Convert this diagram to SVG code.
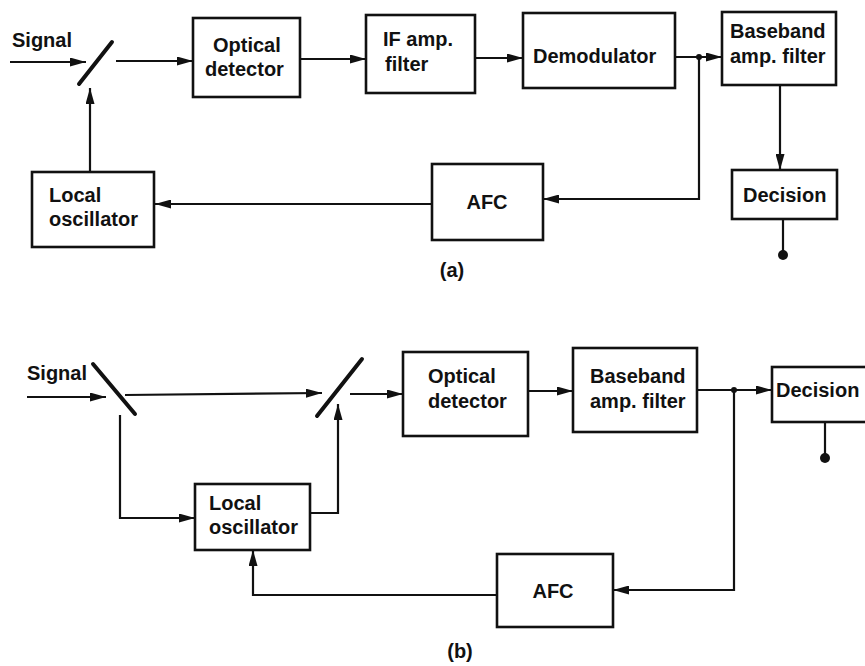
<svg xmlns="http://www.w3.org/2000/svg" width="865" height="666" viewBox="0 0 865 666">
<defs>
<style>
.box{fill:#fff;stroke:#111;stroke-width:2.6}
.ln{fill:none;stroke:#111;stroke-width:2.2}
.mir{stroke:#111;stroke-width:4;stroke-linecap:round}
text{font-family:"Liberation Sans","DejaVu Sans",sans-serif;font-weight:700;font-size:20px;fill:#111}
.c{text-anchor:middle}
</style>
<marker id="arr" viewBox="0 0 16 9" refX="16" refY="4.5" markerWidth="16" markerHeight="9" orient="auto" markerUnits="userSpaceOnUse"><path d="M0,0 L16,4.5 L0,9 z" fill="#111"/></marker>
</defs>
<rect width="865" height="666" fill="#fff"/>

<g id="connectors">
<!-- (a) -->
<path class="ln" d="M10,62 H86" marker-end="url(#arr)"/>
<line class="mir" x1="79" y1="84" x2="112" y2="42"/>
<path class="ln" d="M116,61 H193" marker-end="url(#arr)"/>
<path class="ln" d="M300,59 H366" marker-end="url(#arr)"/>
<path class="ln" d="M475,58 H523" marker-end="url(#arr)"/>
<path class="ln" d="M675,57 H722" marker-end="url(#arr)"/>
<circle cx="699" cy="57" r="3" fill="#111"/>
<path class="ln" d="M699,57 V199 H543" marker-end="url(#arr)"/>
<path class="ln" d="M432,204 H155" marker-end="url(#arr)"/>
<path class="ln" d="M90,172 V88" marker-end="url(#arr)"/>
<path class="ln" d="M780,85 V170" marker-end="url(#arr)"/>
<path class="ln" d="M783,219 V255"/>
<circle cx="783" cy="255" r="5" fill="#111"/>
<!-- (b) -->
<path class="ln" d="M27,397 H106" marker-end="url(#arr)"/>
<line class="mir" x1="93" y1="364" x2="135" y2="414"/>
<path class="ln" d="M125,395 L322,393" marker-end="url(#arr)"/>
<line class="mir" x1="317" y1="416" x2="362" y2="359"/>
<path class="ln" d="M350,394 H403" marker-end="url(#arr)"/>
<path class="ln" d="M528,391 H573" marker-end="url(#arr)"/>
<path class="ln" d="M697,390 H772" marker-end="url(#arr)"/>
<circle cx="734" cy="390" r="3" fill="#111"/>
<path class="ln" d="M734,390 V590 H613" marker-end="url(#arr)"/>
<path class="ln" d="M497,595 H253 V550" marker-end="url(#arr)"/>
<path class="ln" d="M120,415 V518 H195" marker-end="url(#arr)"/>
<path class="ln" d="M310,513 H338 V404" marker-end="url(#arr)"/>
<path class="ln" d="M825,422 V458"/>
<circle cx="825" cy="458" r="5" fill="#111"/>
</g>

<text x="12" y="47">Signal</text>
<text x="27" y="380">Signal</text>

<g id="a-optical"><rect class="box" x="193" y="18" width="107" height="79"/><text x="213" y="52">Optical</text><text x="205" y="76">detector</text></g>
<g id="a-if"><rect class="box" x="366" y="15" width="109" height="78"/><text x="383" y="46">IF amp.</text><text x="385" y="71">filter</text></g>
<g id="a-demod"><rect class="box" x="523" y="13" width="152" height="75"/><text x="533" y="63">Demodulator</text></g>
<g id="a-baseband"><rect class="box" x="722" y="12" width="114" height="73"/><text x="730" y="38">Baseband</text><text x="730" y="63">amp. filter</text></g>
<g id="a-decision"><rect class="box" x="732" y="170" width="105" height="49"/><text x="743" y="202">Decision</text></g>
<g id="a-afc"><rect class="box" x="432" y="164" width="111" height="76"/><text class="c" x="487" y="209">AFC</text></g>
<g id="a-lo"><rect class="box" x="32" y="172" width="122" height="75"/><text x="49" y="202">Local</text><text x="49" y="226">oscillator</text></g>
<text class="c" x="452" y="277">(a)</text>

<g id="b-optical"><rect class="box" x="403" y="352" width="125" height="84"/><text x="428" y="383">Optical</text><text x="428" y="408">detector</text></g>
<g id="b-baseband"><rect class="box" x="573" y="348" width="124" height="84"/><text x="590" y="383">Baseband</text><text x="590" y="408">amp. filter</text></g>
<g id="b-decision"><rect class="box" x="772" y="367" width="100" height="55"/><text x="776" y="397">Decision</text></g>
<g id="b-afc"><rect class="box" x="497" y="554" width="116" height="73"/><text class="c" x="553" y="598">AFC</text></g>
<g id="b-lo"><rect class="box" x="195" y="484" width="115" height="66"/><text x="209" y="510">Local</text><text x="209" y="534">oscillator</text></g>
<text class="c" x="460" y="658">(b)</text>
</svg>
